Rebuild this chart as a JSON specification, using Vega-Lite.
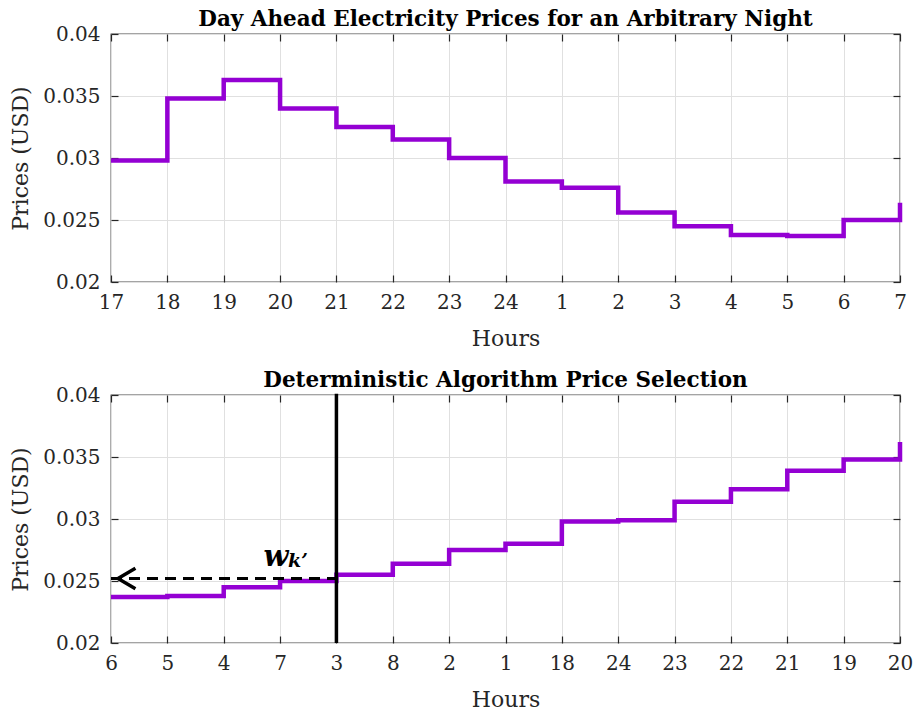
{
  "$schema": "https://vega.github.io/schema/vega-lite/v6.json",
  "autosize": {"type": "pad"},
  "padding": {"left": 9, "top": 7, "right": 5, "bottom": 5},
  "background": "white",
  "bounds": "flush",
  "spacing": 113,
  "datasets": {
    "top": [
      {"hour": "17", "price": 0.0298},
      {"hour": "18", "price": 0.0348},
      {"hour": "19", "price": 0.0363},
      {"hour": "20", "price": 0.0340},
      {"hour": "21", "price": 0.0325},
      {"hour": "22", "price": 0.0315},
      {"hour": "23", "price": 0.0300},
      {"hour": "24", "price": 0.0281},
      {"hour": "1", "price": 0.0276},
      {"hour": "2", "price": 0.0256},
      {"hour": "3", "price": 0.0245},
      {"hour": "4", "price": 0.0238},
      {"hour": "5", "price": 0.0237},
      {"hour": "6", "price": 0.0250},
      {"hour": "7", "price": 0.0264}
    ],
    "bottom": [
      {"hour": "6", "price": 0.0237},
      {"hour": "5", "price": 0.0238},
      {"hour": "4", "price": 0.0245},
      {"hour": "7", "price": 0.0250},
      {"hour": "3", "price": 0.0255},
      {"hour": "8", "price": 0.0264},
      {"hour": "2", "price": 0.0275},
      {"hour": "1", "price": 0.0280},
      {"hour": "18", "price": 0.0298},
      {"hour": "24", "price": 0.0299},
      {"hour": "23", "price": 0.0314},
      {"hour": "22", "price": 0.0324},
      {"hour": "21", "price": 0.0339},
      {"hour": "19", "price": 0.0348},
      {"hour": "20", "price": 0.0362}
    ],
    "cutoff": [
      {"hour": "3", "low": 0.02, "high": 0.0401}
    ],
    "arrow": [
      {"hour": "3", "price": 0.0252},
      {"hour": "6", "price": 0.0252}
    ],
    "arrowhead": [
      {"hour": "6", "price": 0.0252}
    ],
    "label": [
      {"hour": "7", "price": 0.0262}
    ]
  },
  "config": {
    "font": "DejaVu Serif",
    "view": {"stroke": "#4a4a4a", "strokeWidth": 1.3},
    "axis": {
      "domain": false,
      "labelFontSize": 20,
      "labelColor": "#262626",
      "titleFontSize": 22,
      "titleFontWeight": "normal",
      "titleColor": "#262626",
      "gridColor": "#e0e0e0",
      "gridWidth": 1,
      "tickColor": "#262626",
      "tickSize": -7,
      "tickWidth": 1.2
    },
    "title": {"fontSize": 21.5, "fontWeight": "bold", "color": "#000000", "offset": -6, "anchor": "middle"}
  },
  "vconcat": [
    {
      "width": 789,
      "height": 248,
      "title": "Day Ahead Electricity Prices for an Arbitrary Night",
      "data": {"name": "top"},
      "resolve": {"axis": {"x": "independent", "y": "independent"}},
      "layer": [
        {
          "mark": {"type": "line", "interpolate": "step-after", "color": "#9400D3", "strokeWidth": 4.5},
          "encoding": {
            "x": {
              "field": "hour", "type": "nominal",
              "scale": {"type": "point", "padding": 0, "domain": ["17","18","19","20","21","22","23","24","1","2","3","4","5","6","7"]},
              "axis": {"orient": "bottom", "title": "Hours", "labelAngle": 0, "labelPadding": 17, "titlePadding": 16, "grid": true}
            },
            "y": {
              "field": "price", "type": "quantitative",
              "scale": {"domain": [0.02, 0.04], "nice": false, "zero": false},
              "axis": {"orient": "left", "title": "Prices (USD)", "values": [0.02, 0.025, 0.03, 0.035, 0.04], "format": ".3~f", "labelPadding": 18, "titlePadding": 10, "grid": true}
            }
          }
        },
        {
          "mark": {"type": "line", "strokeOpacity": 0},
          "encoding": {
            "x": {
              "field": "hour", "type": "nominal",
              "scale": {"type": "point", "padding": 0, "domain": ["17","18","19","20","21","22","23","24","1","2","3","4","5","6","7"]},
              "axis": {"orient": "top", "labels": false, "title": null, "grid": false}
            },
            "y": {
              "field": "price", "type": "quantitative",
              "scale": {"domain": [0.02, 0.04], "nice": false, "zero": false},
              "axis": {"orient": "right", "labels": false, "title": null, "grid": false, "values": [0.02, 0.025, 0.03, 0.035, 0.04]}
            }
          }
        }
      ]
    },
    {
      "width": 789,
      "height": 248,
      "title": "Deterministic Algorithm Price Selection",
      "resolve": {"axis": {"x": "independent", "y": "independent"}},
      "layer": [
        {
          "data": {"name": "bottom"},
          "mark": {"type": "line", "interpolate": "step-after", "color": "#9400D3", "strokeWidth": 4.5},
          "encoding": {
            "x": {
              "field": "hour", "type": "nominal",
              "scale": {"type": "point", "padding": 0, "domain": ["6","5","4","7","3","8","2","1","18","24","23","22","21","19","20"]},
              "axis": {"orient": "bottom", "title": "Hours", "labelAngle": 0, "labelPadding": 17, "titlePadding": 16, "grid": true}
            },
            "y": {
              "field": "price", "type": "quantitative",
              "scale": {"domain": [0.02, 0.04], "nice": false, "zero": false},
              "axis": {"orient": "left", "title": "Prices (USD)", "values": [0.02, 0.025, 0.03, 0.035, 0.04], "format": ".3~f", "labelPadding": 18, "titlePadding": 10, "grid": true}
            }
          }
        },
        {
          "data": {"name": "bottom"},
          "mark": {"type": "line", "strokeOpacity": 0},
          "encoding": {
            "x": {
              "field": "hour", "type": "nominal",
              "scale": {"type": "point", "padding": 0, "domain": ["6","5","4","7","3","8","2","1","18","24","23","22","21","19","20"]},
              "axis": {"orient": "top", "labels": false, "title": null, "grid": false}
            },
            "y": {
              "field": "price", "type": "quantitative",
              "scale": {"domain": [0.02, 0.04], "nice": false, "zero": false},
              "axis": {"orient": "right", "labels": false, "title": null, "grid": false, "values": [0.02, 0.025, 0.03, 0.035, 0.04]}
            }
          }
        },
        {
          "data": {"name": "arrow"},
          "mark": {"type": "line", "color": "#000000", "strokeWidth": 3, "strokeDash": [11, 7]},
          "encoding": {
            "x": {"field": "hour", "type": "nominal", "axis": null},
            "y": {"field": "price", "type": "quantitative", "axis": null}
          }
        },
        {
          "data": {"name": "arrowhead"},
          "mark": {"type": "point", "shape": "M1.7,-1L0,0L1.7,1", "filled": false, "stroke": "#000000", "strokeWidth": 3.5, "size": 420, "xOffset": 7, "opacity": 1},
          "encoding": {
            "x": {"field": "hour", "type": "nominal", "axis": null},
            "y": {"field": "price", "type": "quantitative", "axis": null}
          }
        },
        {
          "data": {"name": "cutoff"},
          "mark": {"type": "rule", "color": "#000000", "strokeWidth": 3.5, "clip": false},
          "encoding": {
            "x": {"field": "hour", "type": "nominal", "axis": null},
            "y": {"field": "low", "type": "quantitative", "axis": null},
            "y2": {"field": "high"}
          }
        },
        {
          "data": {"name": "label"},
          "mark": {"type": "text", "text": "w", "font": "DejaVu Serif", "fontSize": 29, "fontWeight": "bold", "fontStyle": "italic", "align": "center", "baseline": "alphabetic", "dx": -4, "color": "#000000"},
          "encoding": {
            "x": {"field": "hour", "type": "nominal", "axis": null},
            "y": {"field": "price", "type": "quantitative", "axis": null}
          }
        },
        {
          "data": {"name": "label"},
          "mark": {"type": "text", "text": "k’", "font": "DejaVu Serif", "fontSize": 19, "fontWeight": "bold", "fontStyle": "italic", "align": "left", "baseline": "alphabetic", "dx": 8, "dy": 1, "color": "#000000"},
          "encoding": {
            "x": {"field": "hour", "type": "nominal", "axis": null},
            "y": {"field": "price", "type": "quantitative", "axis": null}
          }
        }
      ]
    }
  ]
}
